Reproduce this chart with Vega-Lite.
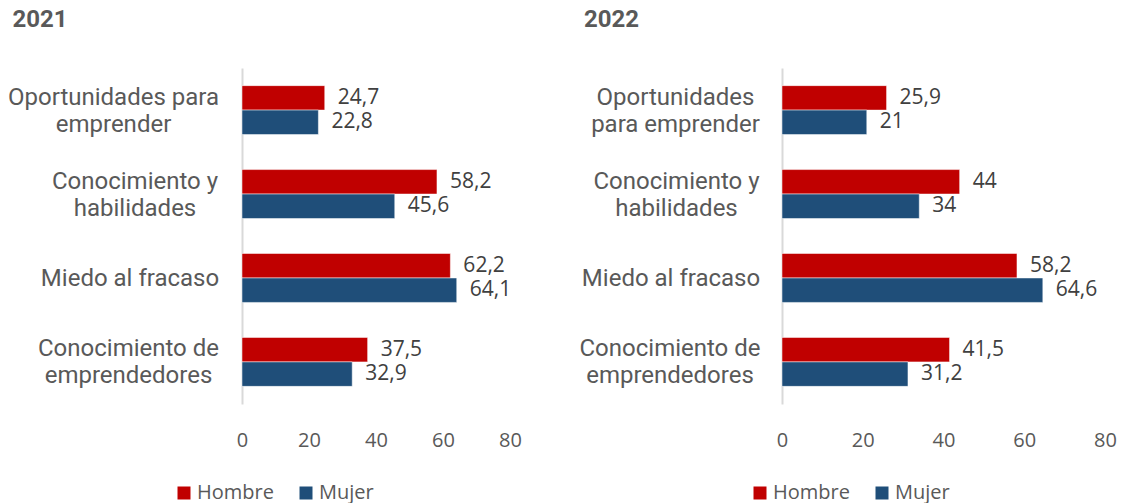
{
  "$schema": "https://vega.github.io/schema/vega-lite/v6.json",
  "padding": {"left": 7, "top": 8, "right": 5, "bottom": 0},
  "background": "white",
  "spacing": 56,
  "datasets": {
    "gem": [
      {"anio": "2021", "categoria": "Oportunidades para emprender", "sexo": "Hombre", "valor": 24.7},
      {"anio": "2021", "categoria": "Oportunidades para emprender", "sexo": "Mujer", "valor": 22.8},
      {"anio": "2021", "categoria": "Conocimiento y habilidades", "sexo": "Hombre", "valor": 58.2},
      {"anio": "2021", "categoria": "Conocimiento y habilidades", "sexo": "Mujer", "valor": 45.6},
      {"anio": "2021", "categoria": "Miedo al fracaso", "sexo": "Hombre", "valor": 62.2},
      {"anio": "2021", "categoria": "Miedo al fracaso", "sexo": "Mujer", "valor": 64.1},
      {"anio": "2021", "categoria": "Conocimiento de emprendedores", "sexo": "Hombre", "valor": 37.5},
      {"anio": "2021", "categoria": "Conocimiento de emprendedores", "sexo": "Mujer", "valor": 32.9},
      {"anio": "2022", "categoria": "Oportunidades para emprender", "sexo": "Hombre", "valor": 25.9},
      {"anio": "2022", "categoria": "Oportunidades para emprender", "sexo": "Mujer", "valor": 21},
      {"anio": "2022", "categoria": "Conocimiento y habilidades", "sexo": "Hombre", "valor": 44},
      {"anio": "2022", "categoria": "Conocimiento y habilidades", "sexo": "Mujer", "valor": 34},
      {"anio": "2022", "categoria": "Miedo al fracaso", "sexo": "Hombre", "valor": 58.2},
      {"anio": "2022", "categoria": "Miedo al fracaso", "sexo": "Mujer", "valor": 64.6},
      {"anio": "2022", "categoria": "Conocimiento de emprendedores", "sexo": "Hombre", "valor": 41.5},
      {"anio": "2022", "categoria": "Conocimiento de emprendedores", "sexo": "Mujer", "valor": 31.2}
    ]
  },
  "config": {
    "view": {"stroke": null},
    "locale": {"number": {"decimal": ",", "thousands": ".", "grouping": [3], "currency": ["", " €"]}},
    "title": {"anchor": "start", "font": "Roboto", "fontSize": 24, "fontWeight": "bold", "color": "#595959", "dx": 5, "offset": 36},
    "axisX": {"grid": false, "domain": false, "ticks": false, "labelFlush": false, "labelFont": "Open Sans", "labelFontSize": 20, "labelColor": "#595959", "labelPadding": 26},
    "axisY": {"grid": false, "domainColor": "#D9D9D9", "domainWidth": 2, "ticks": false, "tickSize": 0, "labelFont": "Roboto", "labelFontSize": 24, "labelColor": "#595959", "labelAlign": "center", "labelBaseline": "middle", "labelLineHeight": 27, "labelLimit": 400, "title": null},
    "legend": {"orient": "none", "direction": "horizontal", "title": null, "symbolType": "square", "symbolSize": 169, "symbolStrokeWidth": 0, "labelFont": "Open Sans", "labelFontSize": 20, "labelColor": "#595959", "labelOffset": 3, "columnPadding": 22}
  },
  "resolve": {"scale": {"color": "independent"}, "legend": {"color": "independent"}},
  "hconcat": [
    {
      "title": "2021",
      "width": 268,
      "height": 336,
      "data": {"name": "gem"},
      "transform": [{"filter": "datum.anio == '2021'"}],
      "encoding": {
        "y": {
          "field": "categoria", "type": "nominal",
          "sort": ["Oportunidades para emprender", "Conocimiento y habilidades", "Miedo al fracaso", "Conocimiento de emprendedores"],
          "scale": {"paddingInner": 0.417, "paddingOuter": 0.21},
          "axis": {
            "labelExpr": "datum.value == 'Oportunidades para emprender' ? ['Oportunidades para', 'emprender'] : datum.value == 'Conocimiento y habilidades' ? ['Conocimiento y', 'habilidades'] : datum.value == 'Conocimiento de emprendedores' ? ['Conocimiento de', 'emprendedores'] : datum.value",
            "labelPadding": {"condition": [
              {"test": "datum.value == 'Oportunidades para emprender'", "value": 129},
              {"test": "datum.value == 'Conocimiento y habilidades'", "value": 107.5},
              {"test": "datum.value == 'Miedo al fracaso'", "value": 112.5}
            ], "value": 114},
            "labelOffset": {"condition": {"test": "datum.value == 'Miedo al fracaso'", "value": 1}, "value": -12.5}
          }
        },
        "yOffset": {"field": "sexo", "type": "nominal", "sort": ["Hombre", "Mujer"], "scale": {"paddingInner": 0, "paddingOuter": 0}},
        "x": {"field": "valor", "type": "quantitative", "scale": {"domain": [0, 80], "nice": false}, "axis": {"title": null, "values": [0, 20, 40, 60, 80]}}
      },
      "layer": [
        {
          "mark": {"type": "bar", "stroke": "white", "strokeWidth": 0.5},
          "encoding": {
            "color": {"field": "sexo", "type": "nominal", "scale": {"domain": ["Hombre", "Mujer"], "range": ["#C00000", "#1F4E79"]},
              "legend": {"legendX": -68, "legendY": 415}}
          }
        },
        {
          "mark": {"type": "text", "align": "left", "baseline": "middle", "dx": 13, "font": "Open Sans", "fontSize": 21, "color": "#404040"},
          "encoding": {"text": {"field": "valor", "type": "quantitative", "format": "~f"}}
        }
      ]
    },
    {
      "title": "2022",
      "width": 323,
      "height": 336,
      "data": {"name": "gem"},
      "transform": [{"filter": "datum.anio == '2022'"}],
      "encoding": {
        "y": {
          "field": "categoria", "type": "nominal",
          "sort": ["Oportunidades para emprender", "Conocimiento y habilidades", "Miedo al fracaso", "Conocimiento de emprendedores"],
          "scale": {"paddingInner": 0.417, "paddingOuter": 0.21},
          "axis": {
            "labelExpr": "datum.value == 'Oportunidades para emprender' ? ['Oportunidades', 'para emprender'] : datum.value == 'Conocimiento y habilidades' ? ['Conocimiento y', 'habilidades'] : datum.value == 'Conocimiento de emprendedores' ? ['Conocimiento de', 'emprendedores'] : datum.value",
            "labelPadding": {"condition": [
              {"test": "datum.value == 'Oportunidades para emprender'", "value": 107},
              {"test": "datum.value == 'Conocimiento y habilidades'", "value": 106},
              {"test": "datum.value == 'Miedo al fracaso'", "value": 111.5}
            ], "value": 112.5},
            "labelOffset": {"condition": {"test": "datum.value == 'Miedo al fracaso'", "value": 1}, "value": -12.5}
          }
        },
        "yOffset": {"field": "sexo", "type": "nominal", "sort": ["Hombre", "Mujer"], "scale": {"paddingInner": 0, "paddingOuter": 0}},
        "x": {"field": "valor", "type": "quantitative", "scale": {"domain": [0, 80], "nice": false}, "axis": {"title": null, "values": [0, 20, 40, 60, 80]}}
      },
      "layer": [
        {
          "mark": {"type": "bar", "stroke": "white", "strokeWidth": 0.5},
          "encoding": {
            "color": {"field": "sexo", "type": "nominal", "scale": {"domain": ["Hombre", "Mujer"], "range": ["#C00000", "#1F4E79"]},
              "legend": {"legendX": -32, "legendY": 415}}
          }
        },
        {
          "mark": {"type": "text", "align": "left", "baseline": "middle", "dx": 13, "font": "Open Sans", "fontSize": 21, "color": "#404040"},
          "encoding": {"text": {"field": "valor", "type": "quantitative", "format": "~f"}}
        }
      ]
    }
  ]
}
